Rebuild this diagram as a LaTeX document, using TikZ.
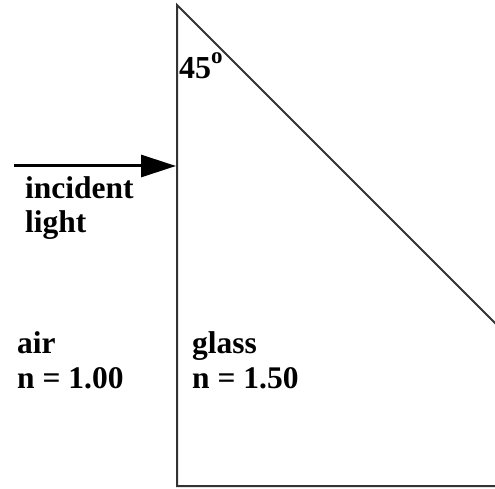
\documentclass[tikz,border=0pt]{standalone}
\usepackage{fontspec}
\setmainfont{Liberation Serif}
\usetikzlibrary{arrows.meta}
\begin{document}
\begin{tikzpicture}[x=1pt,y=-1pt,
  lbl/.style={anchor=base west,inner sep=0pt,font=\fontsize{31.5}{31.5}\selectfont\bfseries},
  edge/.style={draw=black!80,line width=2pt,line join=miter}]
\useasboundingbox (0,0) rectangle (495,489);
\begin{scope}
\clip (0,0) rectangle (495,489);
\coordinate (top) at (177,5);
\coordinate (bl) at (177,486);
\coordinate (br) at (658,486);
\draw[edge] (top) -- (bl) -- (br) -- cycle;
\end{scope}
\coordinate (src) at (14,166);
\coordinate (hit) at (176,166);
\draw[line width=3pt,-{Triangle[length=35pt,width=22pt]}] (src) -- (hit);
\node[lbl,font=\fontsize{32}{32}\selectfont\bfseries] (ang) at (179,79) {45\raisebox{15pt}{\fontsize{23}{23}\selectfont o}};
\node[lbl] (inc1) at (25,199) {incident};
\node[lbl] (inc2) at (25,233) {light};
\node[lbl] (air1) at (17,353) {air};
\node[lbl] (air2) at (17,388) {n = 1.00};
\node[lbl] (gl1) at (192,353) {glass};
\node[lbl] (gl2) at (192,388) {n = 1.50};
\end{tikzpicture}
\end{document}
